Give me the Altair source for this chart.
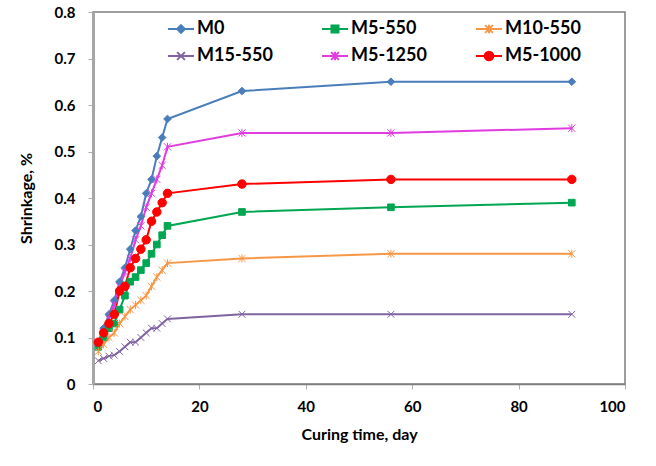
import altair as alt
import pandas as pd

days = [1, 2, 3, 4, 5, 6, 7, 8, 9, 10, 11, 12, 13, 14, 28, 56, 90]
series_names = ["M0", "M5-550", "M10-550", "M15-550", "M5-1250", "M5-1000"]

m0 = [0.09, 0.12, 0.15, 0.18, 0.22, 0.25, 0.29, 0.33, 0.36, 0.41, 0.44, 0.49, 0.53, 0.57, 0.63, 0.65, 0.65]
m5_550 = [0.08, 0.10, 0.12, 0.13, 0.16, 0.19, 0.22, 0.23, 0.245, 0.26, 0.28, 0.30, 0.32, 0.34, 0.37, 0.38, 0.39]
m10_550 = [0.07, 0.085, 0.10, 0.11, 0.13, 0.145, 0.16, 0.17, 0.18, 0.19, 0.21, 0.23, 0.245, 0.26, 0.27, 0.28, 0.28]
m15_550 = [0.05, 0.055, 0.06, 0.062, 0.07, 0.08, 0.09, 0.09, 0.10, 0.11, 0.12, 0.12, 0.13, 0.14, 0.15, 0.15, 0.15]
m5_1250 = [0.09, 0.11, 0.14, 0.17, 0.21, 0.24, 0.27, 0.31, 0.34, 0.38, 0.41, 0.44, 0.47, 0.51, 0.54, 0.54, 0.55]
m5_1000 = [0.09, 0.11, 0.13, 0.15, 0.20, 0.21, 0.25, 0.27, 0.29, 0.31, 0.35, 0.37, 0.39, 0.41, 0.43, 0.44, 0.44]

colors = ["#4A7EBB", "#00A651", "#F79646", "#8064A2", "#E03CE0", "#FF0000"]

x_ticks = [0, 20, 40, 60, 80, 100]
y_ticks = [0, 0.1, 0.2, 0.3, 0.4, 0.5, 0.6, 0.7, 0.8]

marker_paths = [
    "M0,-0.9L0.9,0L0,0.9L-0.9,0Z",
    "M-0.78,-0.78L0.78,-0.78L0.78,0.78L-0.78,0.78Z",
    "M-0.85,-0.85L0.85,0.85M-0.85,0.85L0.85,-0.85M0,-0.95L0,0.95",
    "M-0.8,-0.8L0.8,0.8M-0.8,0.8L0.8,-0.8",
    "M-0.85,-0.85L0.85,0.85M-0.85,0.85L0.85,-0.85M0,-0.95L0,0.95",
    "M1,0A1,1,0,1,1,-1,0A1,1,0,1,1,1,0Z",
]
legend_paths = [
    "M-1,0L1,0M0,-0.3L0.3,0L0,0.3L-0.3,0Z",
    "M-1,0L1,0M-0.27,-0.27L0.27,-0.27L0.27,0.27L-0.27,0.27Z",
    "M-1,0L1,0M-0.3,-0.3L0.3,0.3M-0.3,0.3L0.3,-0.3M0,-0.32L0,0.32",
    "M-1,0L1,0M-0.3,-0.3L0.3,0.3M-0.3,0.3L0.3,-0.3",
    "M-1,0L1,0M-0.3,-0.3L0.3,0.3M-0.3,0.3L0.3,-0.3M0,-0.32L0,0.32",
    "M-1,0L1,0M0.33,0A0.33,0.33,0,1,1,-0.33,0A0.33,0.33,0,1,1,0.33,0Z",
]

rows = []
for name, vals in zip(series_names, [m0, m5_550, m10_550, m15_550, m5_1250, m5_1000]):
    for d, v in zip(days, vals):
        rows.append({"day": d, "shrinkage": v, "series": name})
df = pd.DataFrame(rows)

base = alt.Chart(df)
x = alt.X("day:Q", scale=alt.Scale(domain=[0, 100], nice=False),
          axis=alt.Axis(values=x_ticks, title="Curing time, day"))
y = alt.Y("shrinkage:Q", scale=alt.Scale(domain=[0, 0.8], nice=False),
          axis=alt.Axis(values=y_ticks, format=".1~f", title="Shrinkage, %"))
cscale = alt.Scale(domain=series_names, range=colors)

lines = base.mark_line(strokeWidth=2).encode(
    x=x, y=y,
    color=alt.Color("series:N", scale=cscale, legend=None),
)

points = base.mark_point(filled=True, opacity=1, strokeWidth=1, size=72).encode(
    x=x, y=y,
    color=alt.Color("series:N", scale=cscale, legend=None),
    stroke=alt.Stroke("series:N", scale=cscale, legend=None),
    shape=alt.Shape("series:N", scale=alt.Scale(domain=series_names, range=marker_paths), legend=None),
)

legend_layer = base.transform_filter("datum.day < 0").mark_point(
    filled=True, opacity=1, strokeWidth=2
).encode(
    x=x, y=y,
    color=alt.Color("series:N", scale=cscale, legend=alt.Legend(title=None)),
    stroke=alt.Stroke("series:N", scale=cscale, legend=alt.Legend(title=None)),
    shape=alt.Shape("series:N", scale=alt.Scale(domain=series_names, range=legend_paths),
                    legend=alt.Legend(title=None)),
)

chart = alt.layer(lines, points, legend_layer).resolve_scale(
    color="independent", shape="independent", stroke="independent"
).properties(
    width=532, height=372,
    autosize=alt.AutoSizeParams(type="none"),
    padding={"left": 93, "top": 12, "right": 31, "bottom": 82},
    background="white",
).configure_axis(
    labelFont="Lato", labelFontWeight="bold", labelFontSize=15, labelColor="#000000",
    titleFont="Lato", titleFontWeight="bold", titleFontSize=16, titleColor="#000000",
    grid=False, tickColor="#b0b0b0", tickSize=5, domainColor="#7f7f7f", domainWidth=1.5,
).configure_axisY(
    domainWidth=3, domainColor="#a6a6a6", labelPadding=13, titlePadding=20,
).configure_axisX(
    labelPadding=10, titlePadding=12,
).configure_view(
    stroke="#7f7f7f", strokeWidth=1.5,
).configure_legend(
    orient="none", direction="horizontal", legendX=74, legendY=3, columns=3,
    columnPadding=45, rowPadding=4,
    labelFont="Lato", labelFontSize=18, labelFontWeight="bold", labelColor="#000000",
    symbolSize=676, symbolStrokeWidth=2, labelOffset=2, padding=0, symbolOpacity=1,
)

chart.save("out.html", embed_options={"renderer": "svg", "actions": False})
